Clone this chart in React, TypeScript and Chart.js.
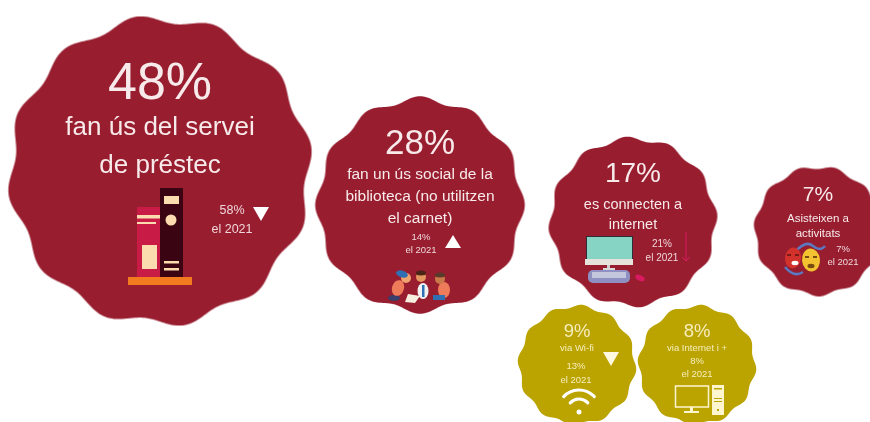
import React, { useEffect, useRef } from "react";
import { Chart, registerables } from "chart.js";

Chart.register(...registerables);

// ---- data ----
const categories = ["préstec", "ús social", "internet", "activitats", "wi-fi", "internet i +"];
const values = [48, 28, 17, 7, 9, 8];
const previousYear = [58, 14, 21, 7, 13, 8];
const descriptions = [
  ["fan ús del servei", "de préstec"],
  ["fan un ús social de la", "biblioteca (no utilitzen", "el carnet)"],
  ["es connecten a", "internet"],
  ["Asisteixen a", "activitats"],
  ["via Wi-fi"],
  ["via Internet i +"],
];
const yearLabel = "el 2021";

// ---- layout (page pixels used as the two hidden axes' units) ----
const WIDTH = 870;
const HEIGHT = 422;
const RED = "#971d2f";
const GOLD = "#bba300";
const FONT = '"Liberation Sans", Arial, sans-serif';

const blobX = [160, 420, 633, 818, 577, 697];
const blobY = [171, 205, 222, 231, 365, 365];
const blobR = [152, 104, 84, 64, 59, 59];
const blobRy = [155, 108, 85, 65, 60, 60];
const blobPhase = [108, 0, 60, 100, 300, 300];
const blobLobes = [12, 12, 12, 11, 12, 12];
const blobAmp = [0.028, 0.028, 0.028, 0.028, 0.028, 0.028];

type T = { s: string; x: number; y: number; f: number; c?: string };

function blobSprite(i: number, color: string): HTMLCanvasElement {
  const rx = blobR[i], ry = blobRy[i];
  const w = Math.ceil(rx * 2.2), h = Math.ceil(ry * 2.2);
  const c = document.createElement("canvas");
  c.width = w; c.height = h;
  const g = c.getContext("2d")!;
  g.filter = "blur(0.5px)";
  g.fillStyle = color;
  g.beginPath();
  const ph = (blobPhase[i] * Math.PI) / 180;
  for (let a = 0; a < 720; a++) {
    const th = (a / 720) * Math.PI * 2;
    const k = 1 + blobAmp[i] * Math.cos(blobLobes[i] * th + ph);
    const px = w / 2 + rx * k * Math.cos(th) * 0.98;
    const py = h / 2 + ry * k * Math.sin(th) * 0.98;
    if (a === 0) g.moveTo(px, py); else g.lineTo(px, py);
  }
  g.closePath();
  g.fill();
  return c;
}

function rect(c: CanvasRenderingContext2D, col: string, x: number, y: number, w: number, h: number) {
  c.fillStyle = col; c.fillRect(x, y, w, h);
}
function poly(c: CanvasRenderingContext2D, col: string, pts: number[]) {
  c.fillStyle = col; c.beginPath();
  for (let i = 0; i < pts.length; i += 2) {
    if (i === 0) c.moveTo(pts[i], pts[i + 1]); else c.lineTo(pts[i], pts[i + 1]);
  }
  c.closePath(); c.fill();
}
function dot(c: CanvasRenderingContext2D, col: string, x: number, y: number, r: number) {
  c.fillStyle = col; c.beginPath(); c.arc(x, y, r, 0, Math.PI * 2); c.fill();
}
function ell(c: CanvasRenderingContext2D, col: string, x: number, y: number, rx: number, ry: number, rot = 0) {
  c.fillStyle = col; c.beginPath(); c.ellipse(x, y, rx, ry, rot, 0, Math.PI * 2); c.fill();
}

function drawIcons(c: CanvasRenderingContext2D) {
  const cream = "#fbdcae";
  // books
  rect(c, "#c81b45", 137, 207, 23, 70);
  rect(c, "#3a0412", 160, 188, 23, 89);
  rect(c, "#f47a1f", 128, 277, 64, 8);
  rect(c, cream, 137, 215, 23, 3.5);
  rect(c, cream, 137, 222, 19, 2);
  rect(c, cream, 142, 245, 15, 24);
  rect(c, cream, 164, 196, 15, 8);
  dot(c, cream, 171, 220, 5.5);
  rect(c, cream, 164, 261, 15, 2.5);
  rect(c, cream, 164, 268, 15, 2.5);

  // triangles
  poly(c, "#ffffff", [253, 207, 269, 207, 261, 221]);
  poly(c, "#ffffff", [445, 248, 461, 248, 453, 235]);
  poly(c, "#fff9e0", [603, 352, 619, 352, 611, 366]);

  // children
  ell(c, "#3a3f6b", 394, 298, 6, 3);
  ell(c, "#ee7b5a", 398, 288, 6, 8, 0.3);
  poly(c, "#f6efe0", [408, 294, 420, 296, 415, 303, 405, 302]);
  dot(c, "#f0a36f", 406, 278, 5);
  ell(c, "#2f6fb3", 402, 274, 6, 3.5, 0.3);
  ell(c, "#f2f2f2", 423, 291, 5.5, 8);
  rect(c, "#2f6fb3", 422, 285, 2.5, 12);
  dot(c, "#e3965f", 421, 277, 5);
  ell(c, "#4a2415", 421, 273, 5, 2.5);
  ell(c, "#ee7b5a", 444, 290, 6, 8);
  rect(c, "#2f6fb3", 433, 295, 12, 5);
  dot(c, "#c9794a", 440, 279, 5);
  ell(c, "#5a3a2a", 440, 275, 5, 2.5);

  // computer
  rect(c, "#2b2f38", 586, 236, 47, 23);
  rect(c, "#86d4c3", 587, 237, 45, 22);
  rect(c, "#e6e2dc", 585, 259, 48, 6);
  rect(c, "#cfcfcf", 607, 265, 3, 4);
  rect(c, "#d8d8d8", 603, 268, 12, 2);
  c.fillStyle = "#8d90c0";
  c.beginPath(); c.roundRect(588, 270, 42, 13, 5); c.fill();
  rect(c, "#c4c6dd", 592, 272, 34, 6);
  ell(c, "#d81b60", 640, 278, 5, 2.8, 0.4);

  // pink arrow
  c.strokeStyle = "#d81b60"; c.lineWidth = 1;
  c.beginPath(); c.moveTo(686, 232); c.lineTo(686, 261); c.moveTo(682, 257); c.lineTo(686, 261); c.lineTo(690, 257); c.stroke();

  // masks
  c.strokeStyle = "#5b78c0"; c.lineWidth = 2.5;
  c.beginPath(); c.moveTo(796, 251); c.quadraticCurveTo(806, 240, 813, 246); c.quadraticCurveTo(820, 252, 825, 246); c.stroke();
  c.beginPath(); c.moveTo(785, 267); c.quadraticCurveTo(794, 278, 803, 272); c.stroke();
  ell(c, "#d3312b", 793, 258, 8, 10.5, 0.12);
  ell(c, "#f2c230", 811, 260, 9, 11.5, -0.1);
  ell(c, "#ffffff", 795, 263, 3.5, 2.2);
  ell(c, "#7a4b10", 811, 266, 3.5, 2.2);
  rect(c, "#7a1b18", 787, 254, 4, 2); rect(c, "#7a1b18", 795, 254, 4, 2);
  rect(c, "#7a4b10", 805, 256, 4, 2); rect(c, "#7a4b10", 813, 256, 4, 2);

  // wifi
  const wf = "#ffffff";
  c.strokeStyle = wf; c.lineCap = "round";
  c.lineWidth = 3.2;
  for (const r of [12, 21]) {
    c.beginPath(); c.arc(579, 411, r, -Math.PI * 0.76, -Math.PI * 0.24); c.stroke();
  }
  dot(c, wf, 579, 412, 2.5);
  c.lineCap = "butt";

  // desktop
  const cr = "#fff6cf";
  c.strokeStyle = cr; c.lineWidth = 1.5;
  c.strokeRect(675.5, 386, 33, 21);
  rect(c, cr, 690, 407, 3, 4);
  rect(c, cr, 684, 411, 15, 2);
  rect(c, cr, 712, 385, 12, 30);
  rect(c, GOLD, 714, 388, 8, 1.5);
  rect(c, GOLD, 714, 398, 8, 1);
  rect(c, GOLD, 714, 401, 8, 1);
  rect(c, GOLD, 717, 409, 2, 2);
}

function buildTexts(): T[] {
  const small = "#f0d6d8";
  const big = "#f8eaea";
  const g = "#f6eebd";
  const pct = (i: number) => `${values[i]}%`;
  const prev = (i: number) => `${previousYear[i]}%`;
  return [
    { s: pct(0), x: 160, y: 99, f: 52, c: big },
    { s: descriptions[0][0], x: 160, y: 135, f: 26, c: big },
    { s: descriptions[0][1], x: 160, y: 173, f: 26, c: big },
    { s: prev(0), x: 232, y: 214, f: 12.5, c: small },
    { s: yearLabel, x: 232, y: 233, f: 12.5, c: small },

    { s: pct(1), x: 420, y: 154, f: 35, c: big },
    { s: descriptions[1][0], x: 420, y: 179, f: 15.5, c: big },
    { s: descriptions[1][1], x: 420, y: 201, f: 15.5, c: big },
    { s: descriptions[1][2], x: 420, y: 223, f: 15.5, c: big },
    { s: prev(1), x: 421, y: 240, f: 9.5, c: small },
    { s: yearLabel, x: 421, y: 253, f: 9.5, c: small },

    { s: pct(2), x: 633, y: 182, f: 28, c: big },
    { s: descriptions[2][0], x: 633, y: 209, f: 14.5, c: big },
    { s: descriptions[2][1], x: 633, y: 229, f: 14.5, c: big },
    { s: prev(2), x: 662, y: 247, f: 10, c: small },
    { s: yearLabel, x: 662, y: 261, f: 10, c: small },

    { s: pct(3), x: 818, y: 201, f: 21, c: big },
    { s: descriptions[3][0], x: 818, y: 222, f: 11.5, c: big },
    { s: descriptions[3][1], x: 818, y: 237, f: 11.5, c: big },
    { s: prev(3), x: 843, y: 252, f: 9.5, c: small },
    { s: yearLabel, x: 843, y: 265, f: 9.5, c: small },

    { s: pct(4), x: 577, y: 337, f: 18.5, c: g },
    { s: descriptions[4][0], x: 577, y: 351, f: 9.5, c: g },
    { s: prev(4), x: 576, y: 369, f: 9.5, c: g },
    { s: yearLabel, x: 576, y: 383, f: 9.5, c: g },

    { s: pct(5), x: 697, y: 337, f: 18.5, c: g },
    { s: descriptions[5][0], x: 697, y: 351, f: 9.5, c: g },
    { s: prev(5), x: 697, y: 364, f: 9.5, c: g },
    { s: yearLabel, x: 697, y: 377, f: 9.5, c: g },
  ];
}

const overlay = {
  id: "overlay",
  afterDatasetsDraw(chart: any) {
    const c: CanvasRenderingContext2D = chart.ctx;
    c.save();
    c.filter = "blur(0.5px)";
    drawIcons(c);
    c.textAlign = "center";
    c.textBaseline = "alphabetic";
    for (const t of buildTexts()) {
      c.font = `${t.f}px ${FONT}`;
      c.fillStyle = t.c || "#fff";
      c.fillText(t.s, t.x, t.y);
    }
    c.restore();
  },
};

export default function App() {
  const ref = useRef<HTMLCanvasElement>(null);
  useEffect(() => {
    document.body.style.margin = "0";
    document.body.style.background = "#ffffff";
    const sprites = categories.map((_, i) => blobSprite(i, i < 4 ? RED : GOLD));
    const redIdx = [0, 1, 2, 3];
    const goldIdx = [4, 5];
    const toPoint = (i: number) => ({ x: blobX[i], y: blobY[i], r: blobR[i], label: categories[i], v: values[i] });
    const chart = new Chart(ref.current!, {
      type: "bubble",
      data: {
        datasets: [
          {
            label: "Biblioteca",
            data: redIdx.map(toPoint),
            backgroundColor: RED,
            borderWidth: 0,
            pointStyle: (ctx: any) => sprites[redIdx[ctx.dataIndex]],
          },
          {
            label: "Connexió",
            data: goldIdx.map(toPoint),
            backgroundColor: GOLD,
            borderWidth: 0,
            pointStyle: (ctx: any) => sprites[goldIdx[ctx.dataIndex]],
          },
        ] as any,
      },
      options: {
        animation: false,
        responsive: false,
        clip: false as any,
        layout: { padding: 0, autoPadding: false },
        plugins: { legend: { display: false }, tooltip: { enabled: false } },
        scales: {
          x: { type: "linear", min: 0, max: WIDTH, display: false },
          y: { type: "linear", min: 0, max: HEIGHT, reverse: true, display: false },
        },
      },
      plugins: [overlay],
    });
    return () => chart.destroy();
  }, []);
  return <canvas ref={ref} width={WIDTH} height={HEIGHT} style={{ display: "block" }} />;
}
